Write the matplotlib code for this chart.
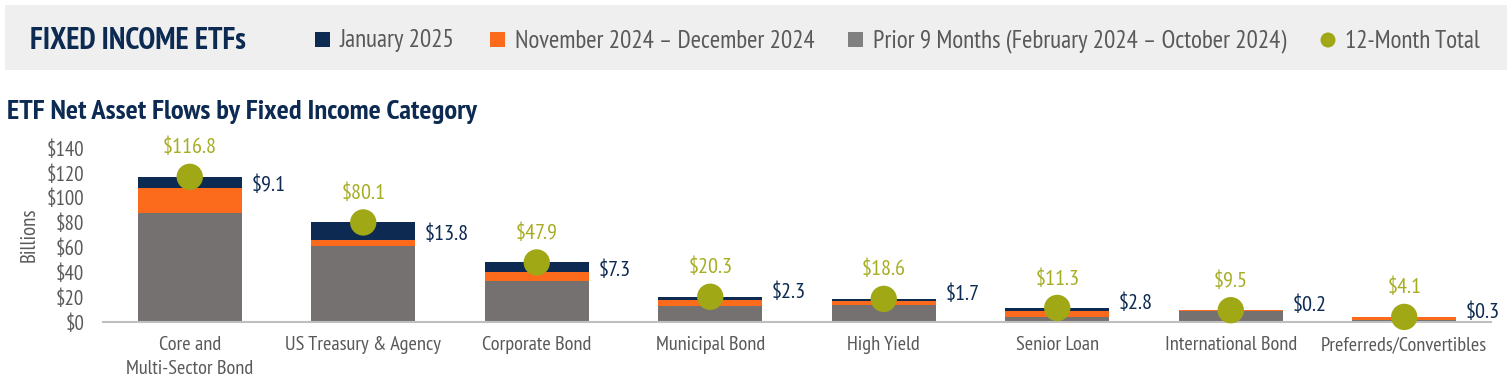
import matplotlib
matplotlib.use("Agg")
import matplotlib.pyplot as plt
from matplotlib.patches import Rectangle, Ellipse
from matplotlib import font_manager

categories = ["Core and\nMulti-Sector Bond", "US Treasury & Agency", "Corporate Bond",
              "Municipal Bond", "High Yield", "Senior Loan", "International Bond",
              "Preferreds/Convertibles"]
prior9 = [87.7, 61.0, 33.2, 13.0, 14.0, 4.3, 8.5, 1.8]
novdec = [20.0, 5.3, 7.4, 5.0, 2.9, 4.2, 0.8, 2.0]
jan = [9.1, 13.8, 7.3, 2.3, 1.7, 2.8, 0.2, 0.3]
total12 = [116.8, 80.1, 47.9, 20.3, 18.6, 11.3, 9.5, 4.1]
yticks = [0, 20, 40, 60, 80, 100, 120, 140]
legend_labels = ["January 2025", "November 2024 \u2013 December 2024",
                 "Prior 9 Months (February 2024 \u2013 October 2024)", "12-Month Total"]

NAVY = "#0c2a52"
ORANGE = "#fc6a1c"
GRAY = "#767171"
GREEN = "#a0a816"
GREEN_TXT = "#a6ad22"
TXT = "#595959"

avail = {f.name for f in font_manager.fontManager.ttflist}
FONT = "DejaVu Sans"
for cand in ["Myriad Pro", "PT Sans Narrow", "Fira Sans Condensed", "Barlow Semi Condensed",
             "Archivo Narrow", "IBM Plex Sans Condensed", "Encode Sans Condensed"]:
    if cand in avail:
        FONT = cand
        break
plt.rcParams["font.family"] = [FONT, "DejaVu Sans"]

W, H = 1507, 392
fig = plt.figure(figsize=(W / 100, H / 100), dpi=100)

def px(x, y):
    return x / W, 1 - y / H

# header band
fig.patches.append(Rectangle(px(5, 70), (1507 - 5) / W, 65 / H, transform=fig.transFigure,
                             facecolor="#efefef", edgecolor="none", zorder=0))
fig.text(*px(30, 41), "FIXED INCOME ETFs", fontsize=22, fontweight="bold", color=NAVY,
         va="center", ha="left")
# legend
sq = 15
items = [(315, NAVY, legend_labels[0]), (490, ORANGE, legend_labels[1]),
         (848, "#808080", legend_labels[2])]
for x0, c, lab in items:
    fig.patches.append(Rectangle(px(x0, 47), sq / W, sq / H, transform=fig.transFigure,
                                 facecolor=c, edgecolor="none"))
    fig.text(*px(x0 + 25, 41), lab, fontsize=18, color=TXT, va="center", ha="left")
fig.add_artist(Ellipse(px(1328, 40), 15 / W, 15 / H, transform=fig.transFigure,
                       facecolor=GREEN, edgecolor="none"))
fig.text(*px(1345, 41), legend_labels[3], fontsize=18, color=TXT, va="center", ha="left")

fig.text(*px(7, 112), "ETF Net Asset Flows by Fixed Income Category", fontsize=20.5,
         fontweight="bold", color=NAVY, va="center", ha="left")

ax = fig.add_axes([103 / W, (H - 322) / H, (1491 - 103) / W, (322 - 148) / H])
x = list(range(len(categories)))
bw = 0.6
ax.bar(x, prior9, width=bw, color=GRAY, zorder=2)
ax.bar(x, novdec, width=bw, bottom=prior9, color=ORANGE, zorder=2)
b3 = [p + n for p, n in zip(prior9, novdec)]
ax.bar(x, jan, width=bw, bottom=b3, color=NAVY, zorder=2)
ax.scatter(x, total12, s=360, color=GREEN, zorder=4, clip_on=False, edgecolors="none")

for i in x:
    ax.annotate(f"${total12[i]:.1f}", (i, total12[i]), xytext=(0, 21), textcoords="offset points",
                ha="center", va="center", fontsize=16, color=GREEN_TXT, annotation_clip=False)
    ly = total12[i] - jan[i] / 2 if jan[i] >= 5 else total12[i] + 6
    ax.annotate(f"${jan[i]:.1f}", (i + bw / 2, ly), xytext=(7, -2), textcoords="offset points",
                ha="left", va="center", fontsize=16, color=NAVY, annotation_clip=False)

ax.set_xlim(-0.5, len(categories) - 0.5)
ax.set_ylim(0, 140)
ax.set_yticks(yticks)
ax.set_yticklabels([f"${v}" for v in yticks])
ax.set_xticks(x)
ax.set_xticklabels(categories, linespacing=1.45)
ax.tick_params(axis="both", length=0, labelsize=14.7, colors=TXT)
ax.tick_params(axis="y", labelsize=15, pad=13.5)
ax.tick_params(axis="x", pad=10)
for s in ["top", "right", "left"]:
    ax.spines[s].set_visible(False)
ax.spines["bottom"].set_color("#bfbfbf")
ax.spines["bottom"].set_linewidth(1.5)
ax.set_ylabel("Billions", fontsize=15, color=TXT)
ax.yaxis.set_label_coords(-0.0465, 0.5)

fig.savefig("out.png", dpi=100)
